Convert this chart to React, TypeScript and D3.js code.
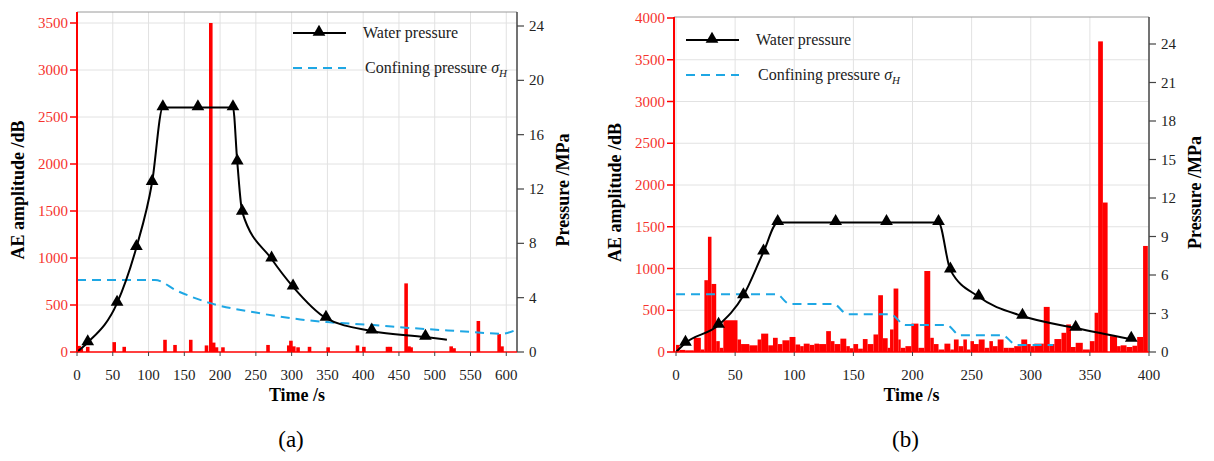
import React from "react";
import * as d3 from "d3";

// ---- panel (a) data ----
const aeTicksA = [0, 500, 1000, 1500, 2000, 2500, 3000, 3500];
const pTicksA = [0, 4, 8, 12, 16, 20, 24];
const timeTicksA = [0, 50, 100, 150, 200, 250, 300, 350, 400, 450, 500, 550, 600];
// [time s, AE amplitude]
const aeBarsA = [
  [3, 65], [6, 40], [15, 55], [52, 105], [66, 55], [123, 130], [137, 75], [159, 130],
  [181, 70], [187, 3500], [191, 100], [195, 50], [204, 50], [267, 75], [296, 70],
  [299, 120], [303, 60], [309, 50], [325, 55], [351, 50], [392, 70], [401, 55],
  [434, 55], [438, 55], [460, 730], [464, 60], [467, 50], [523, 60], [527, 40],
  [561, 330], [590, 190], [594, 60],
];
// [time s, MPa]
const waterA = [
  [0, 0], [15, 0.7], [56, 3.6], [83, 7.7], [105, 12.5], [120, 18], [169, 18], [218, 18],
  [224, 14], [231, 10.3], [272, 6.85], [302, 4.8], [348, 2.5], [412, 1.55], [487, 1.1], [517, 0.9],
];
const confiningA = [
  [0, 5.3], [109, 5.3], [140, 4.5], [186, 3.6], [250, 2.9], [312, 2.4], [350, 2.2],
  [410, 2.0], [470, 1.75], [530, 1.55], [595, 1.35], [612, 1.6],
];

// ---- panel (b) data ----
const aeTicksB = [0, 500, 1000, 1500, 2000, 2500, 3000, 3500, 4000];
const pTicksB = [0, 3, 6, 9, 12, 15, 18, 21, 24];
const timeTicksB = [0, 50, 100, 150, 200, 250, 300, 350, 400];
// [start s, end s, AE amplitude]
const aeBarsB = [
  [0, 3, 85], [3, 8, 25], [8, 15, 20], [15, 21, 170], [21, 24, 30], [24, 27, 860],
  [27, 30, 1380], [30, 34, 815], [34, 37, 130], [37, 40, 50], [40, 52, 380], [52, 55, 150],
  [55, 62, 95], [62, 69, 80], [69, 72, 150], [72, 78, 220], [78, 82, 80], [82, 86, 170],
  [86, 90, 95], [90, 96, 140], [96, 101, 180], [101, 105, 90], [105, 108, 70], [108, 113, 100],
  [113, 117, 85], [117, 121, 100], [121, 127, 95], [127, 131, 250], [131, 134, 130],
  [134, 139, 95], [139, 144, 160], [144, 147, 70], [147, 150, 45], [150, 154, 95],
  [154, 158, 40], [158, 162, 155], [162, 167, 95], [167, 171, 210], [171, 175, 680],
  [175, 179, 165], [179, 181, 50], [181, 184, 270], [184, 188, 760], [188, 190, 150],
  [190, 194, 50], [194, 199, 70], [199, 205, 340], [205, 210, 50], [210, 215, 970],
  [215, 218, 170], [218, 222, 95], [222, 227, 30], [227, 232, 100], [232, 235, 30],
  [235, 239, 150], [239, 243, 70], [243, 246, 150], [246, 249, 30], [249, 252, 130],
  [252, 256, 95], [256, 261, 150], [261, 265, 50], [265, 268, 130], [268, 272, 70],
  [272, 277, 150], [277, 281, 50], [281, 286, 50], [286, 292, 70], [292, 297, 150],
  [297, 300, 95], [300, 303, 70], [303, 311, 100], [311, 316, 540], [316, 320, 95],
  [320, 326, 155], [326, 330, 230], [330, 334, 330], [334, 338, 60], [338, 344, 110],
  [344, 350, 30], [350, 354, 130], [354, 357, 470], [357, 361, 3720], [361, 365, 1790],
  [367, 373, 190], [373, 376, 70], [376, 381, 80], [381, 386, 60], [386, 390, 75],
  [390, 395, 180], [395, 399, 1270],
];
const waterB = [
  [0, 0], [8, 0.7], [36, 2.1], [57, 4.4], [74, 7.8], [86, 10.1], [135, 10.1], [178, 10.1],
  [222, 10.1], [232, 6.4], [256, 4.3], [293, 2.8], [338, 1.87], [385, 1.0],
];
const confiningB = [
  [0, 4.5], [85, 4.5], [96, 3.75], [133, 3.75], [145, 2.95], [181, 2.95], [194, 2.1],
  [229, 2.1], [240, 1.3], [276, 1.3], [288, 0.55], [319, 0.55],
];

const FONT = "Liberation Serif";
const RED = "#ff0000";
const RED_TXT = "#f5332e";
const BLUE = "#1ea7e4";

const tri = d3.symbol().type(d3.symbolTriangle).size(70)();

function Panel(props) {
  const { x, yAE, yP, top, bottom, left, right, aeTicks, pTicks, timeTicks, bars, water,
    waterMarks, confining, legendX, legendY, label } = props;
  const line = d3.line().x((d) => x(d[0])).y((d) => yP(d[1])).curve(d3.curveMonotoneX);
  const midY = (top + bottom) / 2 + 8;
  return (
    <g style={{ fontFamily: FONT }}>
      {/* grid */}
      {timeTicks.filter((t) => x(t) > left + 2 && x(t) < right - 2).map((t) => (
        <line key={"gx" + t} x1={x(t)} x2={x(t)} y1={top} y2={bottom} stroke="#e2e2e2" strokeWidth={1} />
      ))}
      {aeTicks.filter((v) => yAE(v) > top + 2 && v > 0).map((v) => (
        <line key={"gy" + v} x1={left} x2={right} y1={yAE(v)} y2={yAE(v)} stroke="#e2e2e2" strokeWidth={1} />
      ))}
      <line x1={left} x2={right} y1={top} y2={top} stroke="#9a9a9a" strokeWidth={1} />

      {/* AE bars */}
      {bars.map((b, i) => {
        const x0 = b.length === 3 ? x(b[0]) : x(b[0] - 2.5);
        const x1 = b.length === 3 ? x(b[1]) : x(b[0] + 2.5);
        const v = b.length === 3 ? b[2] : b[1];
        return <rect key={i} x={x0} width={x1 - x0} y={yAE(v)} height={bottom - yAE(v)} fill={RED} />;
      })}

      {/* confining pressure */}
      <path d={line(confining)} fill="none" stroke={BLUE} strokeWidth={2} strokeDasharray="9,6" />
      {/* water pressure */}
      <path d={line(water)} fill="none" stroke="#000" strokeWidth={2} />
      {waterMarks.map((d, i) => (
        <path key={i} d={tri} transform={`translate(${x(d[0])},${yP(d[1]) - 1})`} fill="#000" />
      ))}

      {/* left axis */}
      <line x1={left} x2={left} y1={top} y2={bottom} stroke={RED} strokeWidth={2} />
      {aeTicks.map((v) => (
        <g key={"la" + v}>
          <line x1={left - 7} x2={left} y1={yAE(v)} y2={yAE(v)} stroke={RED} strokeWidth={1.5} />
          <text x={left - 9} y={yAE(v) + 5} textAnchor="end" fontSize={15} fill={RED_TXT}>{v}</text>
        </g>
      ))}
      {/* right axis */}
      <line x1={right} x2={right} y1={top} y2={bottom} stroke="#444" strokeWidth={1.5} />
      {pTicks.map((v) => (
        <g key={"ra" + v}>
          <line x1={right} x2={right + 7} y1={yP(v)} y2={yP(v)} stroke="#444" strokeWidth={1.2} />
          <text x={right + 12} y={yP(v) + 5} fontSize={15} fill="#222">{v}</text>
        </g>
      ))}
      {/* bottom axis */}
      <line x1={left} x2={right} y1={bottom} y2={bottom} stroke={RED} strokeWidth={1.5} />
      {timeTicks.map((t) => (
        <g key={"bx" + t}>
          <line x1={x(t)} x2={x(t)} y1={bottom} y2={bottom + 4} stroke="#444" strokeWidth={1} />
          <text x={x(t)} y={bottom + 28} textAnchor="middle" fontSize={15} fill="#222">{t}</text>
        </g>
      ))}

      {/* titles */}
      <text x={(left + right) / 2} y={bottom + 49} textAnchor="middle" fontSize={18} fontWeight="bold">Time /s</text>
      <text transform={`translate(${left - 53},${midY}) rotate(-90)`} textAnchor="middle" fontSize={18} fontWeight="bold">AE amplitude /dB</text>
      <text transform={`translate(${right + 52},${midY}) rotate(-90)`} textAnchor="middle" fontSize={18} fontWeight="bold">Pressure /MPa</text>
      <text x={(left + right) / 2 - 6} y={447} textAnchor="middle" fontSize={23}>{label}</text>

      {/* legend */}
      <line x1={legendX} x2={legendX + 53} y1={legendY} y2={legendY} stroke="#000" strokeWidth={2} />
      <path d={tri} transform={`translate(${legendX + 26},${legendY - 1})`} fill="#000" />
      <text x={legendX + 70} y={legendY + 5} fontSize={16} fill="#222">Water pressure</text>
      <line x1={legendX} x2={legendX + 53} y1={legendY + 35} y2={legendY + 35} stroke={BLUE} strokeWidth={2} strokeDasharray="9,6" />
      <text x={legendX + 72} y={legendY + 40} fontSize={16} fill="#222">
        Confining pressure <tspan fontStyle="italic">σ</tspan>
        <tspan fontStyle="italic" fontSize={11} dy={4}>H</tspan>
      </text>
    </g>
  );
}

export default function App() {
  const xA = d3.scaleLinear().domain([0, 615]).range([77, 517]);
  const aeA = d3.scaleLinear().domain([0, 3500]).range([352, 23]);
  const pA = d3.scaleLinear().domain([0, 24]).range([352, 26]);

  const xB = d3.scaleLinear().domain([-1.7, 400]).range([674, 1149]);
  const aeB = d3.scaleLinear().domain([0, 4000]).range([352, 18]);
  const pB = d3.scaleLinear().domain([0, 24]).range([352, 44]);

  return (
    <svg width={1214} height={461} style={{ position: "absolute", left: 0, top: 0, background: "#fff" }}>
      <Panel x={xA} yAE={aeA} yP={pA} top={12} bottom={352} left={77} right={517}
        aeTicks={aeTicksA} pTicks={pTicksA} timeTicks={timeTicksA} bars={aeBarsA}
        water={waterA} waterMarks={waterA.slice(1, -1)} confining={confiningA}
        legendX={293} legendY={33} label="(a)" />
      <Panel x={xB} yAE={aeB} yP={pB} top={17} bottom={352} left={674} right={1149}
        aeTicks={aeTicksB} pTicks={pTicksB} timeTicks={timeTicksB} bars={aeBarsB}
        water={waterB} waterMarks={waterB.slice(1)} confining={confiningB}
        legendX={686} legendY={40} label="(b)" />
    </svg>
  );
}
